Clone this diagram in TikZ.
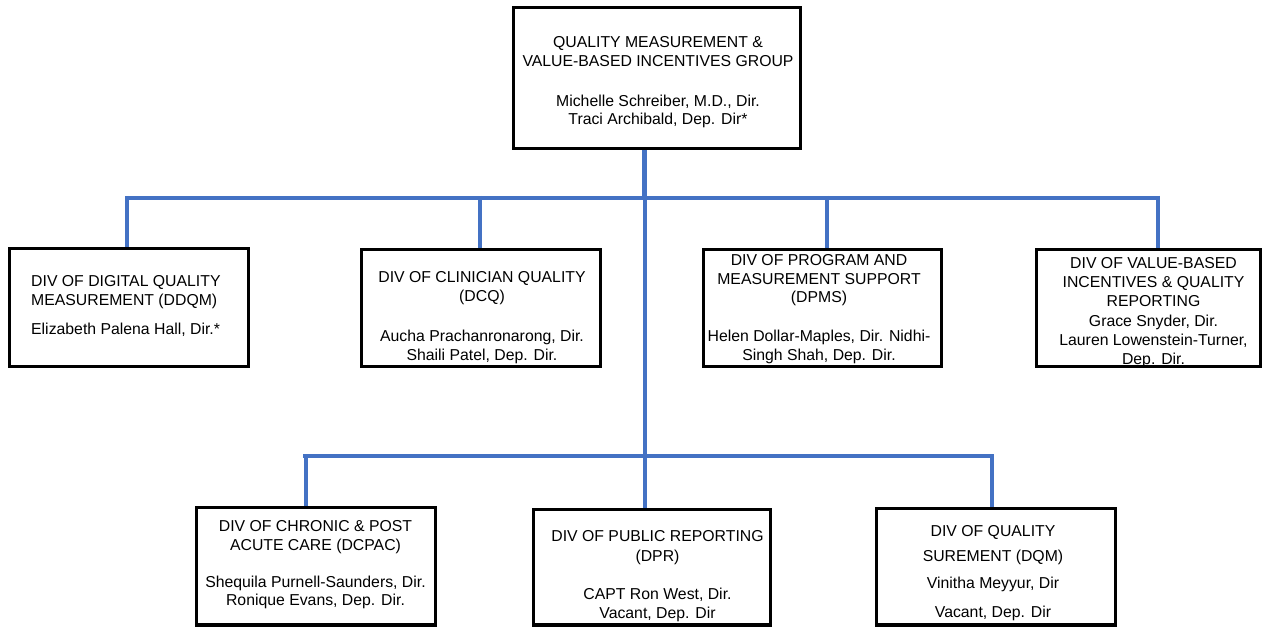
\documentclass[tikz,border=0pt]{standalone}
\usepackage{fontspec}
\setmainfont{Liberation Sans}
\definecolor{orgblue}{RGB}{68,114,196}
\begin{document}
\begin{tikzpicture}[x=1pt,y=-1pt,
  box/.style={draw=black,line width=3.2pt,inner sep=0pt},
  txt/.style={inner sep=0pt,anchor=north,align=center,text=black,font=\fontsize{15.8}{18.8}\selectfont},
  bus/.style={draw=orgblue,line width=4pt},
  lowbus/.style={draw=orgblue,line width=3.5pt},
  drop/.style={draw=orgblue,line width=4.5pt},
  topline/.style={draw=orgblue,line width=5pt}]
\useasboundingbox (0,0) rectangle (1262,628);
% boxes
\node[box,minimum width=287pt,minimum height=141pt] (top) at (657,78) {};
\node[box,minimum width=239pt,minimum height=118pt] (b1) at (129,307.5) {};
\node[box,minimum width=239pt,minimum height=117pt] (b2) at (481,308) {};
\node[box,minimum width=238pt,minimum height=117pt] (b3) at (822.5,308) {};
\node[box,minimum width=224pt,minimum height=117pt] (b4) at (1148.5,308) {};
\node[box,minimum width=239pt,minimum height=117.5pt] (b5) at (316,566.25) {};
\node[box,minimum width=237pt,minimum height=115.5pt] (b6) at (652,567.25) {};
\node[box,minimum width=239pt,minimum height=116.5pt] (b7) at (996,566.75) {};
% texts
\node[txt] (t0) at (658,36) {QUALITY MEASUREMENT \&\\VALUE-BASED INCENTIVES GROUP\\[21.2pt]Michelle Schreiber, M.D., Dir.\\Traci Archibald, Dep. Dir*};
\node[txt,anchor=north west,align=left] (t1) at (31,275) {DIV OF DIGITAL QUALITY\\MEASUREMENT (DDQM)\\[10.2pt]Elizabeth Palena Hall, Dir.*};
\node[txt] (t2) at (482,271) {DIV OF CLINICIAN QUALITY\\(DCQ)\\[21.9pt]Aucha Prachanronarong, Dir.\\Shaili Patel, Dep. Dir.};
\node[txt] (t3) at (819,254) {DIV OF PROGRAM AND\\MEASUREMENT SUPPORT\\(DPMS)\\[20.2pt]Helen Dollar-Maples, Dir. Nidhi-\\Singh Shah, Dep. Dir.};
\node[txt,font=\fontsize{15.8}{19.3}\selectfont] (t4) at (1153.5,257) {DIV OF VALUE-BASED\\INCENTIVES \& QUALITY\\REPORTING\\Grace Snyder, Dir.\\Lauren Lowenstein-Turner,\\Dep. Dir.};
\node[txt] (t5) at (315.5,520) {DIV OF CHRONIC \& POST\\ACUTE CARE (DCPAC)\\[18.2pt]Shequila Purnell-Saunders, Dir.\\Ronique Evans, Dep. Dir.};
\node[txt] (t6) at (657.5,530) {DIV OF PUBLIC REPORTING\\[1.2pt](DPR)\\[19.2pt]CAPT Ron West, Dir.\\Vacant, Dep. Dir};
\node[txt] (t7) at (993,525) {DIV OF QUALITY\\[6.2pt]SUREMENT (DQM)\\[8.2pt]Vinitha Meyyur, Dir\\[10.2pt]Vacant, Dep. Dir};
% connectors
\coordinate (j0) at (644,198);
\coordinate (busL) at (125,198);
\coordinate (busR) at (1160,198);
\coordinate (j1) at (644.5,456);
\coordinate (busL2) at (303,456);
\coordinate (busR2) at (994,456);
\coordinate (c1) at (127,196);
\coordinate (c2) at (480,196);
\coordinate (c3) at (827,196);
\coordinate (c4) at (1158,196);
\coordinate (c5) at (306,458);
\coordinate (c7) at (992,458);
\coordinate (cm) at (644.5,198);
\draw[topline] (top.south -| j0) -- (j0);
\draw[bus] (busL) -- (busR);
\draw[drop] (c1) -- (c1 |- b1.north);
\draw[drop] (c2) -- (c2 |- b2.north);
\draw[drop] (c3) -- (c3 |- b3.north);
\draw[drop] (c4) -- (c4 |- b4.north);
\draw[bus] (cm) -- (cm |- b6.north);
\draw[lowbus] (busL2) -- (busR2);
\draw[drop] (c5) -- (c5 |- b5.north);
\draw[lowbus] (c7) -- (c7 |- b7.north);
\end{tikzpicture}
\end{document}
